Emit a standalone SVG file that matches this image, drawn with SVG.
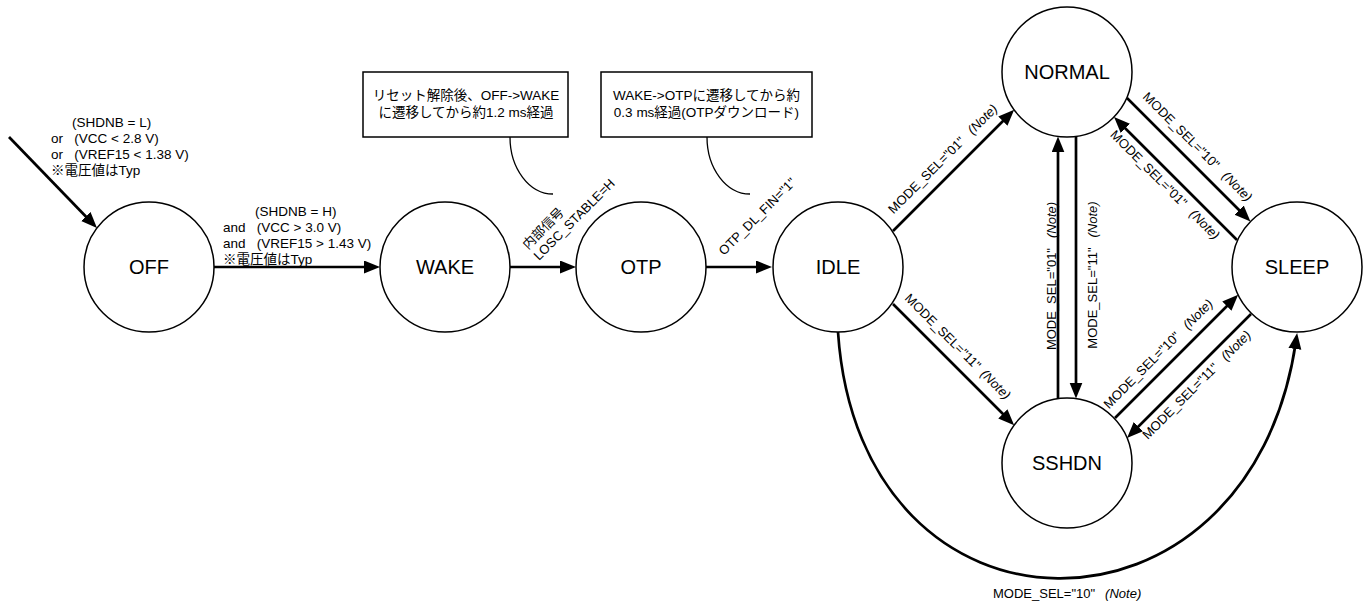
<svg xmlns="http://www.w3.org/2000/svg" width="1370" height="605" viewBox="0 0 1370 605">
<style>
.node{fill:#fff;stroke:#000;stroke-width:1.5}
.nt{font-family:"Liberation Sans","Noto Sans CJK JP",sans-serif;font-size:20px;text-anchor:middle;fill:#000}
.lb{font-family:"Liberation Sans","Noto Sans CJK JP",sans-serif;font-size:13px;fill:#000}
.lg{font-size:13.5px}
.mid{text-anchor:middle}
.it{font-style:italic}
.edge{fill:none;stroke:#000;stroke-width:2.7}
.note{fill:#fff;stroke:#000;stroke-width:1.5}
.callout{fill:none;stroke:#000;stroke-width:1.3}
</style>
<defs>
<marker id="arr" markerUnits="userSpaceOnUse" markerWidth="18" markerHeight="14" refX="8" refY="6.5" orient="auto">
<path d="M0,0 L16,6.5 L0,13 z" fill="#000"/>
</marker>
</defs>

<g id="connectors">
<path class="edge" d="M9,137 L91.4,222.2" marker-end="url(#arr)"/>
<path class="edge" d="M214,267 L372,267" marker-end="url(#arr)"/>
<path class="edge" d="M510,267 L568,267" marker-end="url(#arr)"/>
<path class="edge" d="M706,267 L764,267" marker-end="url(#arr)"/>
<path class="edge" d="M893,231 L1008.5,115.5" marker-end="url(#arr)"/>
<path class="edge" d="M893,304 L1008.5,419.5" marker-end="url(#arr)"/>
<path class="edge" d="M1058,398.6 L1058,144.4" marker-end="url(#arr)"/>
<path class="edge" d="M1076,136.4 L1076,390.6" marker-end="url(#arr)"/>
<path class="edge" d="M1127,98 L1244.8,215.8" marker-end="url(#arr)"/>
<path class="edge" d="M1237,240 L1119.7,122.7" marker-end="url(#arr)"/>
<path class="edge" d="M1115,418 L1232.5,300.5" marker-end="url(#arr)"/>
<path class="edge" d="M1251,314 L1132.7,432.3" marker-end="url(#arr)"/>
<path class="edge" d="M838,332 C860,659 1250,659 1296,341" marker-end="url(#arr)"/>
</g>

<g id="edge-labels">
<text class="lb lg" xml:space="preserve"><tspan x="72" y="127">(SHDNB = L)</tspan><tspan x="51" y="143">or   (VCC &lt; 2.8 V)</tspan><tspan x="51" y="159">or   (VREF15 &lt; 1.38 V)</tspan><tspan x="51" y="175">※電圧値はTyp</tspan></text>
<text class="lb lg" xml:space="preserve"><tspan x="255" y="216">(SHDNB = H)</tspan><tspan x="223" y="232">and   (VCC &gt; 3.0 V)</tspan><tspan x="223" y="248">and   (VREF15 &gt; 1.43 V)</tspan><tspan x="223" y="264">※電圧値はTyp</tspan></text>
<text class="lb" transform="translate(528,250) rotate(-45)">内部信号</text>
<text class="lb" transform="translate(539,261) rotate(-45)">LOSC_STABLE=H</text>
<text class="lb" transform="translate(724,256) rotate(-45)">OTP_DL_FIN="1"</text>
<text class="lb mid" transform="translate(946,162) rotate(-45)">MODE_SEL="01"<tspan class="it" dx="10">(Note)</tspan></text>
<text class="lb mid" transform="translate(954.7,349.7) rotate(45)">MODE_SEL="11"<tspan class="it" dx="6">(Note)</tspan></text>
<text class="lb mid" transform="translate(1055.5,276) rotate(-90)">MODE_SEL="01"<tspan class="it" dx="10">(Note)</tspan></text>
<text class="lb mid" transform="translate(1097,275) rotate(-90)">MODE_SEL="11"<tspan class="it" dx="10">(Note)</tspan></text>
<text class="lb mid" transform="translate(1194.5,150) rotate(45)">MODE_SEL="10"<tspan class="it" dx="10">(Note)</tspan></text>
<text class="lb mid" transform="translate(1162,188) rotate(45)">MODE_SEL="01"<tspan class="it" dx="10">(Note)</tspan></text>
<text class="lb mid" transform="translate(1161.3,357) rotate(-45)">MODE_SEL="10"<tspan class="it" dx="10">(Note)</tspan></text>
<text class="lb mid" transform="translate(1199.7,388) rotate(-45)">MODE_SEL="11"<tspan class="it" dx="10">(Note)</tspan></text>
<text class="lb" x="993" y="598">MODE_SEL="10"<tspan class="it" dx="10">(Note)</tspan></text>
</g>

<g id="note1">
<rect class="note" x="363" y="72" width="205" height="65"/>
<text class="lb lg mid"><tspan x="466" y="100">リセット解除後、OFF-&gt;WAKE</tspan><tspan x="466" y="117">に遷移してから約1.2 ms経過</tspan></text>
<path class="callout" d="M510,137 A43,57 0 0 0 553,194"/>
</g>
<g id="note2">
<rect class="note" x="601" y="72" width="211" height="65"/>
<text class="lb lg mid"><tspan x="706.5" y="100">WAKE-&gt;OTPに遷移してから約</tspan><tspan x="706.5" y="117">0.3 ms経過(OTPダウンロード)</tspan></text>
<path class="callout" d="M707,137 A43,57 0 0 0 750,194"/>
</g>

<g id="OFF"><circle class="node" cx="149" cy="267" r="65"/><text class="nt" x="149" y="274">OFF</text></g>
<g id="WAKE"><circle class="node" cx="445" cy="267" r="65"/><text class="nt" x="445" y="274">WAKE</text></g>
<g id="OTP"><circle class="node" cx="641" cy="267" r="65"/><text class="nt" x="641" y="274">OTP</text></g>
<g id="IDLE"><circle class="node" cx="838" cy="267" r="65"/><text class="nt" x="838" y="274">IDLE</text></g>
<g id="NORMAL"><circle class="node" cx="1067" cy="72" r="65"/><text class="nt" x="1067" y="79">NORMAL</text></g>
<g id="SLEEP"><circle class="node" cx="1297" cy="267" r="65"/><text class="nt" x="1297" y="274">SLEEP</text></g>
<g id="SSHDN"><circle class="node" cx="1067" cy="463" r="65"/><text class="nt" x="1067" y="470">SSHDN</text></g>
</svg>
